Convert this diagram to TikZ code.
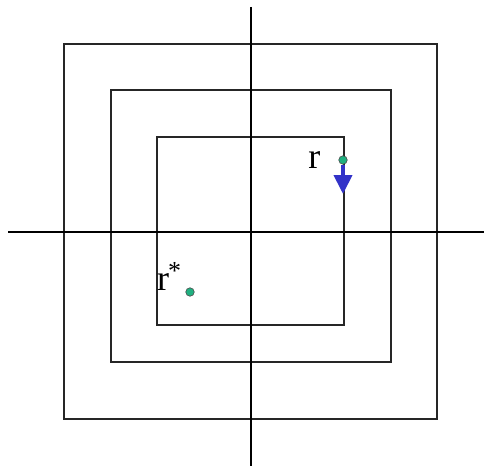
\documentclass[tikz,border=0pt]{standalone}
\usepackage{fontspec}
\setmainfont{Liberation Serif}
\usetikzlibrary{arrows.meta, positioning}

\definecolor{dotgreen}{RGB}{32,176,128}
\definecolor{arrowblue}{RGB}{50,50,200}

\begin{document}
\begin{tikzpicture}[x=1pt, y=-1pt, >=latex,
    axis/.style={line width=2.8pt},
    frame/.style={line width=1.3pt, draw=black!85},
    dot/.style={circle, fill=dotgreen, draw=black!70, line width=0.6pt, inner sep=0pt, minimum size=8.5pt},
    lbl/.style={font=\fontsize{36}{36}\selectfont, inner sep=0pt},
    move/.style={arrowblue, line width=4pt, -{Triangle[width=18pt, length=19pt]}}]
    \useasboundingbox (0,0) rectangle (484,468);
    % squares
    \foreach \xa/\ya/\xb/\yb in {64/44/437/419, 111/90/391/362, 157/137/344/325}
        \draw[frame] (\xa,\ya) rectangle (\xb,\yb);
    % axes
    \draw[axis] (251,7) -- (251,466);
    \draw[axis] (8,232) -- (484,232);
    % points
    \node[dot] (r) at (343,160) {};
    \node[lbl, left=18pt of r] (rlabel) {r};
    \coordinate (rend) at (343,194);
    \draw[move] (r.south) -- (rend);
    \node[dot] (rstar) at (190,292) {};
    \node[lbl, anchor=base west] (rstarlabel) at (157,290) {r\kern-1pt\raisebox{11pt}{\fontsize{26}{26}\selectfont *}};
\end{tikzpicture}
\end{document}
